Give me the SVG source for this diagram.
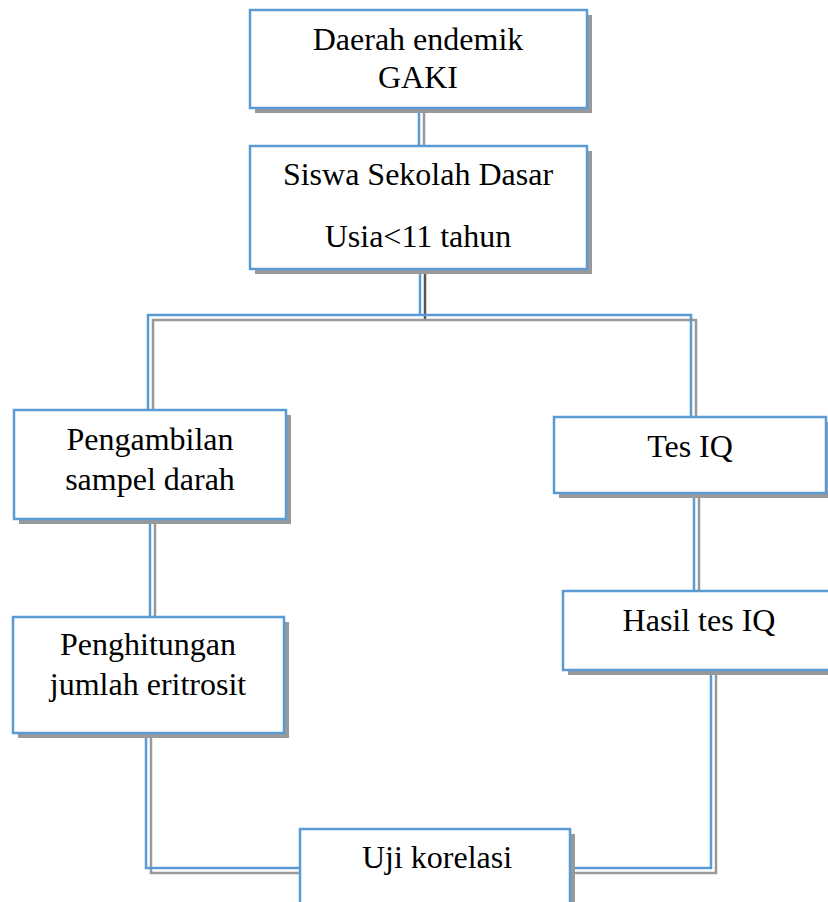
<svg xmlns="http://www.w3.org/2000/svg" width="828" height="902" viewBox="0 0 828 902">
<style>
.sh{fill:#999999;stroke:none}
.bx{fill:#ffffff;stroke:#5B9BD5;stroke-width:2.5}
.ln{fill:none;stroke:#5B9BD5;stroke-width:2.5}
.lns{fill:none;stroke:#999999;stroke-width:2.5}
text{font-family:"Liberation Serif","Times New Roman",serif;font-size:32px;fill:#000;text-anchor:middle}
</style>
<rect width="828" height="902" fill="#ffffff"/>
<g id="connectors">
<g transform="translate(5,5)">
<path class="lns" d="M419,108 V146"/>
<path class="lns" d="M420,269 V315" style="stroke:#555555"/>
<path class="lns" d="M148,410 V315 H691 V417"/>
<path class="lns" d="M150,519 V617"/>
<path class="lns" d="M694,493 V591"/>
<path class="lns" d="M146,733 V868 H300"/>
<path class="lns" d="M711,670 V868 H570"/>
</g>
<path class="ln" d="M419,108 V146"/>
<path class="ln" d="M420,269 V315"/>
<path class="ln" d="M148,410 V315 H691 V417"/>
<path class="ln" d="M150,519 V617"/>
<path class="ln" d="M694,493 V591"/>
<path class="ln" d="M146,733 V868 H300"/>
<path class="ln" d="M711,670 V868 H570"/>
</g>
<g id="node1">
<rect class="sh" x="255" y="15" width="337" height="98"/>
<rect class="bx" x="250" y="10" width="337" height="98"/>
<text x="418" y="50">Daerah endemik</text>
<text x="418" y="88">GAKI</text>
</g>
<g id="node2">
<rect class="sh" x="255" y="151" width="337" height="123"/>
<rect class="bx" x="250" y="146" width="337" height="123"/>
<text x="418" y="185">Siswa Sekolah Dasar</text>
<text x="418" y="247">Usia&lt;11 tahun</text>
</g>
<g id="node3">
<rect class="sh" x="19" y="415" width="272" height="109"/>
<rect class="bx" x="14" y="410" width="272" height="109"/>
<text x="150" y="450">Pengambilan</text>
<text x="150" y="490">sampel darah</text>
</g>
<g id="node4">
<rect class="sh" x="559" y="422" width="272" height="76"/>
<rect class="bx" x="554" y="417" width="272" height="76"/>
<text x="690" y="457">Tes IQ</text>
</g>
<g id="node5">
<rect class="sh" x="18" y="622" width="271" height="116"/>
<rect class="bx" x="13" y="617" width="271" height="116"/>
<text x="148" y="655">Penghitungan</text>
<text x="148" y="695">jumlah eritrosit</text>
</g>
<g id="node6">
<rect class="sh" x="568" y="596" width="272" height="79"/>
<rect class="bx" x="563" y="591" width="272" height="79"/>
<text x="699" y="631">Hasil tes IQ</text>
</g>
<g id="node7">
<rect class="sh" x="305" y="834" width="270" height="80"/>
<rect class="bx" x="300" y="829" width="270" height="80"/>
<text x="437" y="868">Uji korelasi</text>
</g>
</svg>
